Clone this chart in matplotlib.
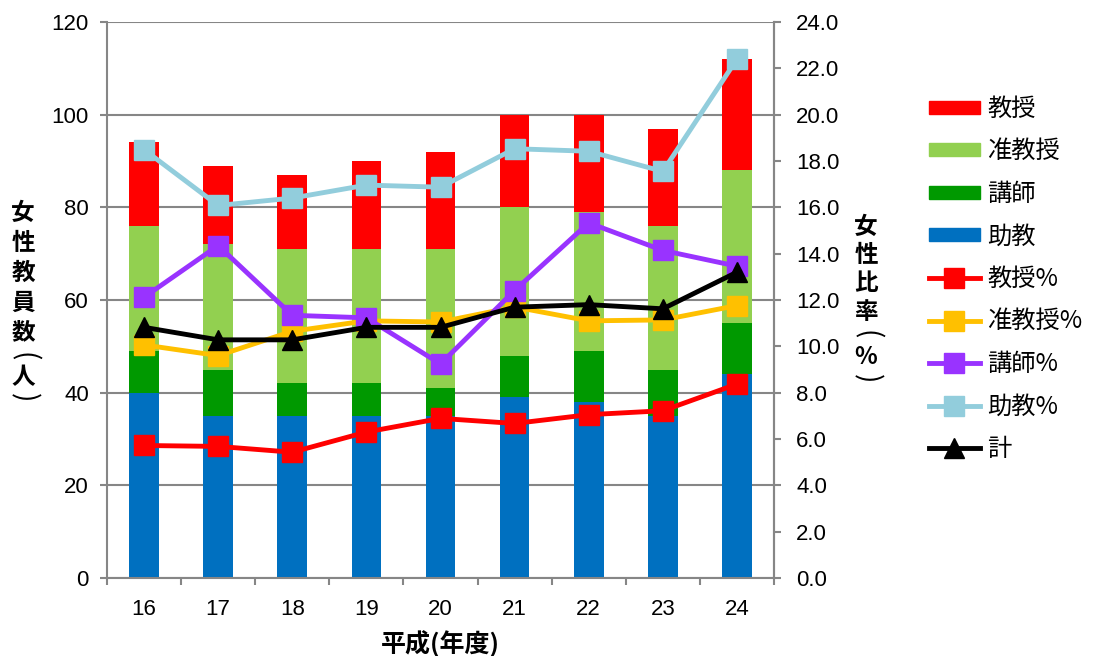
import matplotlib
matplotlib.use("Agg")
import matplotlib.pyplot as plt
import numpy as np
from matplotlib.patches import Patch
from matplotlib.lines import Line2D

plt.rcParams['font.family'] = ['Liberation Sans', 'Noto Sans CJK JP', 'DejaVu Sans']

years = ['16', '17', '18', '19', '20', '21', '22', '23', '24']
# counts (people) - stacked bars
joky = [40, 35, 35, 35, 35, 39, 38, 35, 44]          # 助教
koushi_top = [49, 45, 42, 42, 41, 48, 49, 45, 55]    # cumulative top of 講師
junkyoju_top = [76, 72, 71, 71, 71, 80, 79, 76, 88]  # cumulative top of 准教授
kyoju_top = [94, 89, 87, 90, 92, 100, 100, 97, 112]  # cumulative top of 教授

jokyo_n = np.array(joky)
koushi_n = np.array(koushi_top) - np.array(joky)
junkyoju_n = np.array(junkyoju_top) - np.array(koushi_top)
kyoju_n = np.array(kyoju_top) - np.array(junkyoju_top)

# ratios (%)
kyoju_pct = [5.72, 5.68, 5.43, 6.30, 6.89, 6.67, 7.05, 7.22, 8.37]
junkyoju_pct = [10.06, 9.6, 10.65, 11.1, 11.05, 11.7, 11.1, 11.14, 11.76]
koushi_pct = [12.12, 14.35, 11.34, 11.23, 9.24, 12.41, 15.33, 14.14, 13.46]
jokyo_pct = [18.49, 16.08, 16.4, 16.96, 16.87, 18.53, 18.42, 17.55, 22.4]
total_pct = [10.82, 10.28, 10.28, 10.82, 10.82, 11.69, 11.8, 11.62, 13.2]

c_red = '#FF0000'
c_lgreen = '#92D050'
c_green = '#009900'
c_blue = '#0070C0'
c_yellow = '#FFC000'
c_purple = '#9933FF'
c_lblue = '#92CDDC'
grid_c = '#868686'

fig = plt.figure(figsize=(10.93, 6.56), dpi=100)
ax = fig.add_axes([107/1093, 1-578/656, (774-107)/1093, (578-22)/656])
x = np.arange(len(years))
w = 0.4
ax.bar(x, jokyo_n, w, color=c_blue, zorder=2)
ax.bar(x, koushi_n, w, bottom=jokyo_n, color=c_green, zorder=2)
ax.bar(x, junkyoju_n, w, bottom=jokyo_n + koushi_n, color=c_lgreen, zorder=2)
ax.bar(x, kyoju_n, w, bottom=jokyo_n + koushi_n + junkyoju_n, color=c_red, zorder=2)

ax.set_xlim(-0.5, len(years) - 0.5)
ax.set_ylim(0, 120)
ax.set_yticks(np.arange(0, 121, 20))
ax.yaxis.grid(True, color=grid_c, linewidth=1.5, zorder=0)
ax.set_axisbelow(True)
ax.set_xticks(x)
ax.set_xticklabels(years)
ax.set_xticks(np.arange(-0.5, len(years), 1), minor=True)
ax.tick_params(axis='x', which='major', length=0, labelsize=16, pad=15)
ax.tick_params(axis='x', which='minor', length=5, color=grid_c, width=1.5)
ax.tick_params(axis='y', length=5, color=grid_c, width=1.5, labelsize=16, pad=8)
ax.spines['top'].set_visible(False)
for s in ['left', 'bottom', 'right']:
    ax.spines[s].set_color(grid_c)
    ax.spines[s].set_linewidth(1.5)

ax2 = ax.twinx()
ax2.set_ylim(0, 24)
rt = np.arange(0, 24.1, 2)
ax2.set_yticks(rt)
ax2.set_yticklabels([f'{v:.1f}' for v in rt])
ax2.tick_params(axis='y', length=5, color=grid_c, width=1.5, labelsize=16, pad=11)
for s in ['top', 'left', 'bottom']:
    ax2.spines[s].set_visible(False)
ax2.spines['right'].set_color(grid_c)
ax2.spines['right'].set_linewidth(1.5)

lw = 3.5
ms = 14
ax2.plot(x, kyoju_pct, color=c_red, lw=lw, marker='s', ms=ms)
ax2.plot(x, junkyoju_pct, color=c_yellow, lw=lw, marker='s', ms=ms)
ax2.plot(x, koushi_pct, color=c_purple, lw=lw, marker='s', ms=ms)
ax2.plot(x, jokyo_pct, color=c_lblue, lw=lw, marker='s', ms=ms)
ax2.plot(x, total_pct, color='black', lw=lw, marker='^', ms=ms)

jp = ['Noto Sans CJK JP', 'DejaVu Sans']
fig.text(440/1093, 1-644/656, '平成(年度)', fontsize=18, fontweight='bold',
         family=jp, ha='center', va='center')


def vlabel(chars, ys, xc):
    for ch, yy in zip(chars, ys):
        if ch in '()':
            fig.text(xc/1093, 1-yy/656, ch, fontsize=20, fontweight='normal', family=jp,
                     ha='center', va='center', rotation=-90, rotation_mode='anchor')
        else:
            fig.text(xc/1093, 1-yy/656, ch, fontsize=17, fontweight='bold', family=jp,
                     ha='center', va='center')


vlabel(['女', '性', '教', '員', '数', '(', '人', ')'],
       [213, 243, 273, 303, 332, 357, 377, 398], 23)
vlabel(['女', '性', '比', '率', '(', '%', ')'],
       [227, 255, 283, 312, 335, 357, 379], 866)

handles = [
    Patch(color=c_red), Patch(color=c_lgreen), Patch(color=c_green), Patch(color=c_blue),
    Line2D([], [], color=c_red, lw=lw, marker='s', ms=ms),
    Line2D([], [], color=c_yellow, lw=lw, marker='s', ms=ms),
    Line2D([], [], color=c_purple, lw=lw, marker='s', ms=ms),
    Line2D([], [], color=c_lblue, lw=lw, marker='s', ms=ms),
    Line2D([], [], color='black', lw=lw, marker='^', ms=ms),
]
labels = ['教授', '准教授', '講師', '助教', '教授%', '准教授%', '講師%', '助教%', '計']
fig.legend(handles, labels, loc='upper left', bbox_to_anchor=(919/1093, 1-86/656),
           frameon=False, prop={'family': jp, 'size': 17.5}, handlelength=2.1,
           handleheight=0.45, labelspacing=0.68, handletextpad=0.3, numpoints=1,
           borderaxespad=0, borderpad=0.4)

fig.savefig('out.png', dpi=100)
